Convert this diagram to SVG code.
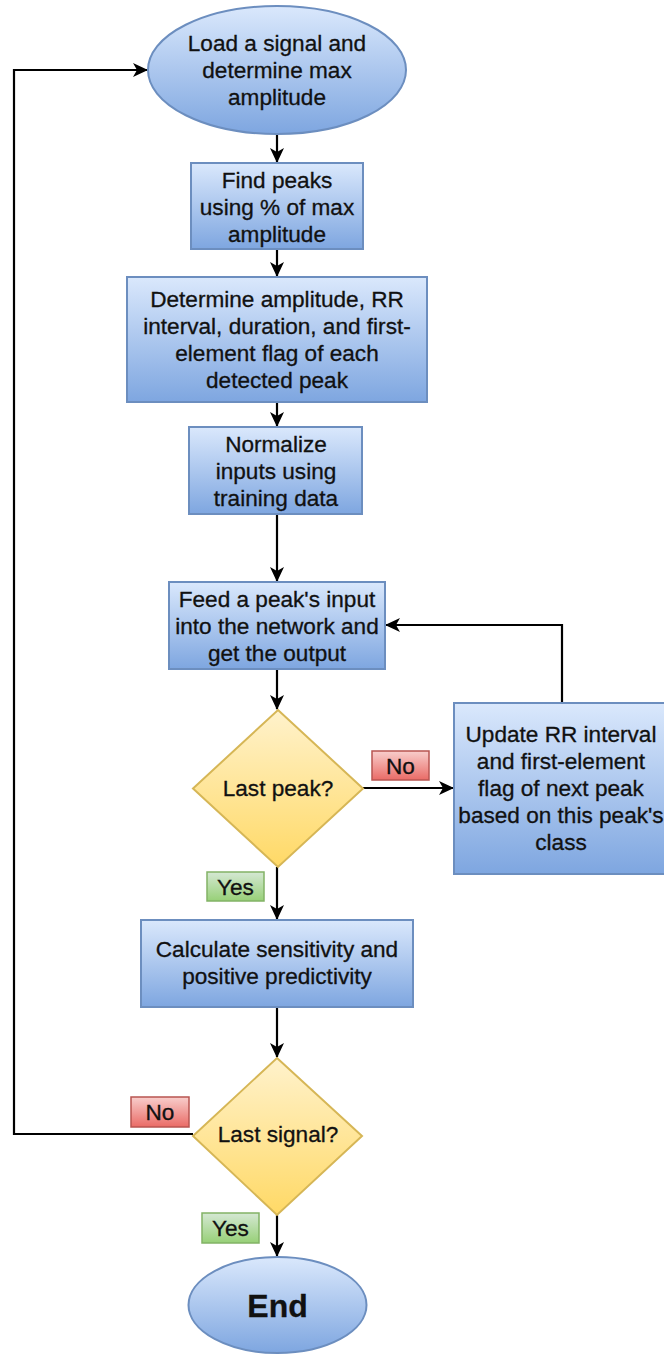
<svg xmlns="http://www.w3.org/2000/svg" width="664" height="1355" viewBox="0 0 664 1355">
<defs>
<linearGradient id="gBlue" x1="0" y1="0" x2="0" y2="1"><stop offset="0" stop-color="#dae8fc"/><stop offset="1" stop-color="#7ea6e0"/></linearGradient>
<linearGradient id="gYel" x1="0" y1="0" x2="0" y2="1"><stop offset="0" stop-color="#fff2cc"/><stop offset="1" stop-color="#ffd966"/></linearGradient>
<linearGradient id="gRed" x1="0" y1="0" x2="0" y2="1"><stop offset="0" stop-color="#f8cecc"/><stop offset="1" stop-color="#ea6b66"/></linearGradient>
<linearGradient id="gGrn" x1="0" y1="0" x2="0" y2="1"><stop offset="0" stop-color="#d5e8d4"/><stop offset="1" stop-color="#97d077"/></linearGradient>
<marker id="arr" markerWidth="16" markerHeight="16" refX="14" refY="8" orient="auto" markerUnits="userSpaceOnUse">
<path d="M0,1 L15,8 L0,15 L4,8 Z" fill="#000"/>
</marker>
</defs>
<style>
.blue{fill:url(#gBlue);stroke:#6c8ebf;stroke-width:2}
.yel{fill:url(#gYel);stroke:#d6b656;stroke-width:2}
.red{fill:url(#gRed);stroke:#b85450;stroke-width:1.5}
.grn{fill:url(#gGrn);stroke:#82b366;stroke-width:1.5}
text{font-family:"Liberation Sans",Arial,Helvetica,sans-serif;font-size:22.6px;fill:#111;stroke:#111;stroke-width:0.3;text-anchor:middle}
.big{font-size:32px;font-weight:bold}
.ln{fill:none;stroke:#000;stroke-width:2.2;marker-end:url(#arr)}
</style>
<g id="connectors">
<path class="ln" d="M277,134 L277,162"/>
<path class="ln" d="M277,249 L277,276"/>
<path class="ln" d="M277,402 L277,426"/>
<path class="ln" d="M277,514 L277,581"/>
<path class="ln" d="M277,669 L277,709"/>
<path class="ln" d="M363,788 L453,788"/>
<path class="ln" d="M562,703 L562,625 L386,625"/>
<path class="ln" d="M277,867 L277,919"/>
<path class="ln" d="M277,1007 L277,1057"/>
<path class="ln" d="M193,1134 L14,1134 L14,70 L147,70"/>
<path class="ln" d="M277,1215 L277,1256"/>
</g>
<g id="start">
<ellipse class="blue" cx="277" cy="70" rx="129" ry="64"/>
<text x="277" y="51">Load a signal and</text>
<text x="277" y="78">determine max</text>
<text x="277" y="105">amplitude</text>
</g>
<g id="findPeaks">
<rect class="blue" x="191" y="163" width="172" height="86"/>
<text x="277" y="188">Find peaks</text>
<text x="277" y="215">using % of max</text>
<text x="277" y="242">amplitude</text>
</g>
<g id="determine">
<rect class="blue" x="127" y="277" width="300" height="125"/>
<text x="277" y="307">Determine amplitude, RR</text>
<text x="277" y="334">interval, duration, and first-</text>
<text x="277" y="361">element flag of each</text>
<text x="277" y="388">detected peak</text>
</g>
<g id="normalize">
<rect class="blue" x="189" y="427" width="173" height="87"/>
<text x="276" y="451.5">Normalize</text>
<text x="276" y="478.5">inputs using</text>
<text x="276" y="505.5">training data</text>
</g>
<g id="feed">
<rect class="blue" x="169" y="582" width="216" height="87"/>
<text x="277" y="606.5">Feed a peak's input</text>
<text x="277" y="633.5">into the network and</text>
<text x="277" y="660.5">get the output</text>
</g>
<g id="lastPeak">
<polygon class="yel" points="278,710 363,788.5 278,867 193,788.5"/>
<text x="278" y="796">Last peak?</text>
</g>
<g id="update">
<rect class="blue" x="454" y="703" width="214" height="171"/>
<text x="561" y="742">Update RR interval</text>
<text x="561" y="769">and first-element</text>
<text x="561" y="796">flag of next peak</text>
<text x="561" y="823">based on this peak's</text>
<text x="561" y="850">class</text>
</g>
<g id="calc">
<rect class="blue" x="141" y="920" width="272" height="87"/>
<text x="277" y="957">Calculate sensitivity and</text>
<text x="277" y="984">positive predictivity</text>
</g>
<g id="lastSignal">
<polygon class="yel" points="277,1058 362,1136 277,1215 193,1136"/>
<text x="278" y="1142">Last signal?</text>
</g>
<g id="end">
<ellipse class="blue" cx="277.5" cy="1305" rx="89" ry="48"/>
<text class="big" x="277.5" y="1317">End</text>
</g>
<g id="labels">
<rect class="red" x="372" y="751" width="57" height="29"/>
<text x="400.5" y="774">No</text>
<rect class="grn" x="207" y="872" width="57" height="29"/>
<text x="235.5" y="895">Yes</text>
<rect class="red" x="131" y="1097" width="58" height="30"/>
<text x="160" y="1120">No</text>
<rect class="grn" x="202" y="1213" width="57" height="30"/>
<text x="230.5" y="1236">Yes</text>
</g>
</svg>
